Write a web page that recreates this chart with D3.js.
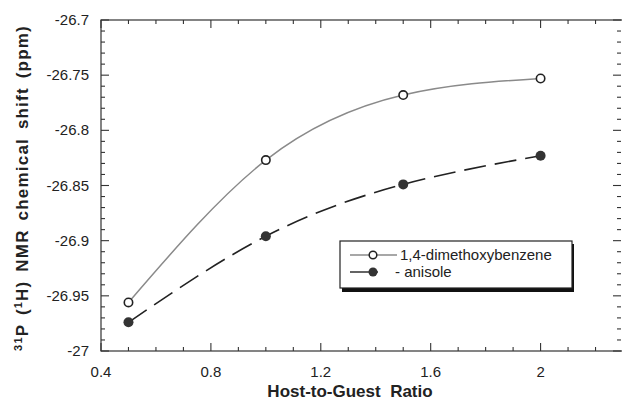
<!DOCTYPE html>
<html>
<head>
<meta charset="utf-8">
<script src="https://d3js.org/d3.v7.min.js"></script>
<style>
body { margin: 0; background: #fff; }
text { font-family: "Liberation Sans", Arial, sans-serif; fill: #222; white-space: pre; }
</style>
</head>
<body>
<svg width="622" height="401"></svg>
<script>
// host-to-guest ratios
var ratios = [0.5, 1.0, 1.5, 2.0];
// 31P shifts (ppm)
var dimethoxy = [-26.956, -26.827, -26.768, -26.753];
var anisole = [-26.974, -26.896, -26.849, -26.823];
var xTicks = [0.4, 0.8, 1.2, 1.6, 2];
var yTicks = [-26.7, -26.75, -26.8, -26.85, -26.9, -26.95, -27];

var svg = d3.select("svg");

var x = d3.scaleLinear().domain([0.4, 2.3]).range([101, 623]);
var y = d3.scaleLinear().domain([-27, -26.7]).range([351, 20]);

var ink = "#333";

// frame
svg.append("rect")
    .attr("x", 101).attr("y", 20)
    .attr("width", 522).attr("height", 331)
    .attr("fill", "none").attr("stroke", ink).attr("stroke-width", 1.2);

// minor + major ticks, all four sides pointing inward
var xMinor = d3.range(0.4, 2.31, 0.1);
var yMinor = d3.range(-27, -26.699, 0.01);
function isMajorX(v) { return Math.abs(v / 0.4 - Math.round(v / 0.4)) < 1e-6; }
function isMajorY(v) { return Math.abs(v / 0.05 - Math.round(v / 0.05)) < 1e-6; }

var tk = svg.append("g").attr("stroke", ink).attr("stroke-width", 1.1);
xMinor.forEach(function(v) {
  var len = isMajorX(v) ? 8 : 4;
  tk.append("line").attr("x1", x(v)).attr("x2", x(v)).attr("y1", 351).attr("y2", 351 - len);
  tk.append("line").attr("x1", x(v)).attr("x2", x(v)).attr("y1", 20).attr("y2", 20 + len);
});
yMinor.forEach(function(v) {
  var len = isMajorY(v) ? 8 : 4;
  tk.append("line").attr("x1", 101).attr("x2", 101 + len).attr("y1", y(v)).attr("y2", y(v));
  tk.append("line").attr("x1", 621).attr("x2", 621 - len).attr("y1", y(v)).attr("y2", y(v));
});

// tick labels
svg.append("g").selectAll("text").data(xTicks).enter().append("text")
    .attr("x", function(d) { return x(d); })
    .attr("y", 377)
    .attr("text-anchor", "middle")
    .attr("font-size", 15)
    .text(function(d) { return d; });
svg.append("g").selectAll("text").data(yTicks).enter().append("text")
    .attr("x", 89)
    .attr("y", function(d) { return y(d) + 5; })
    .attr("text-anchor", "end")
    .attr("font-size", 15)
    .text(function(d) { return d; });

// axis titles
svg.append("text")
    .attr("x", 350).attr("y", 397)
    .attr("text-anchor", "middle")
    .attr("font-size", 17).attr("font-weight", "bold")
    .text("Host-to-Guest  Ratio");

var yl = svg.append("text")
    .attr("transform", "translate(28,188) rotate(-90)")
    .attr("text-anchor", "middle")
    .attr("font-size", 17).attr("font-weight", "bold")
    .attr("letter-spacing", 1.2).attr("word-spacing", 3);
yl.append("tspan").attr("font-size", 11).attr("dy", -6).text("31");
yl.append("tspan").attr("dy", 6).text("P (");
yl.append("tspan").attr("font-size", 11).attr("dy", -6).text("1");
yl.append("tspan").attr("dy", 6).text("H) NMR chemical shift (ppm)");

// curves
var line = d3.line()
    .x(function(d) { return x(d[0]); })
    .y(function(d) { return y(d[1]); })
    .curve(d3.curveNatural);

var s1 = ratios.map(function(r, i) { return [r, dimethoxy[i]]; });
var s2 = ratios.map(function(r, i) { return [r, anisole[i]]; });

svg.append("path").datum(s1)
    .attr("d", line).attr("fill", "none")
    .attr("stroke", "#8a8a8a").attr("stroke-width", 1.5);
svg.append("path").datum(s2)
    .attr("d", line).attr("fill", "none")
    .attr("stroke", "#222").attr("stroke-width", 1.6)
    .attr("stroke-dasharray", "22,9");

svg.append("g").selectAll("circle").data(s1).enter().append("circle")
    .attr("cx", function(d) { return x(d[0]); })
    .attr("cy", function(d) { return y(d[1]); })
    .attr("r", 4.2).attr("fill", "#fff")
    .attr("stroke", "#222").attr("stroke-width", 1.6);
svg.append("g").selectAll("circle").data(s2).enter().append("circle")
    .attr("cx", function(d) { return x(d[0]); })
    .attr("cy", function(d) { return y(d[1]); })
    .attr("r", 5).attr("fill", "#333");

// legend with drop shadow
var lg = svg.append("g");
lg.append("rect").attr("x", 342).attr("y", 244).attr("width", 232).attr("height", 48).attr("fill", "#111");
lg.append("rect").attr("x", 340).attr("y", 241).attr("width", 232).attr("height", 47)
    .attr("fill", "#fff").attr("stroke", "#222").attr("stroke-width", 1.2);

lg.append("line").attr("x1", 350).attr("x2", 397).attr("y1", 255).attr("y2", 255)
    .attr("stroke", "#8a8a8a").attr("stroke-width", 1.4);
lg.append("circle").attr("cx", 373).attr("cy", 255).attr("r", 3.8)
    .attr("fill", "#fff").attr("stroke", "#222").attr("stroke-width", 1.5);
lg.append("text").attr("x", 400).attr("y", 260).attr("font-size", 15).text("1,4-dimethoxybenzene");

lg.append("line").attr("x1", 350).attr("x2", 378).attr("y1", 272).attr("y2", 272)
    .attr("stroke", "#222").attr("stroke-width", 1.4);
lg.append("circle").attr("cx", 373).attr("cy", 272).attr("r", 4.5).attr("fill", "#333");
lg.append("text").attr("x", 395).attr("y", 277).attr("font-size", 15).text("- anisole");
</script>
</body>
</html>
